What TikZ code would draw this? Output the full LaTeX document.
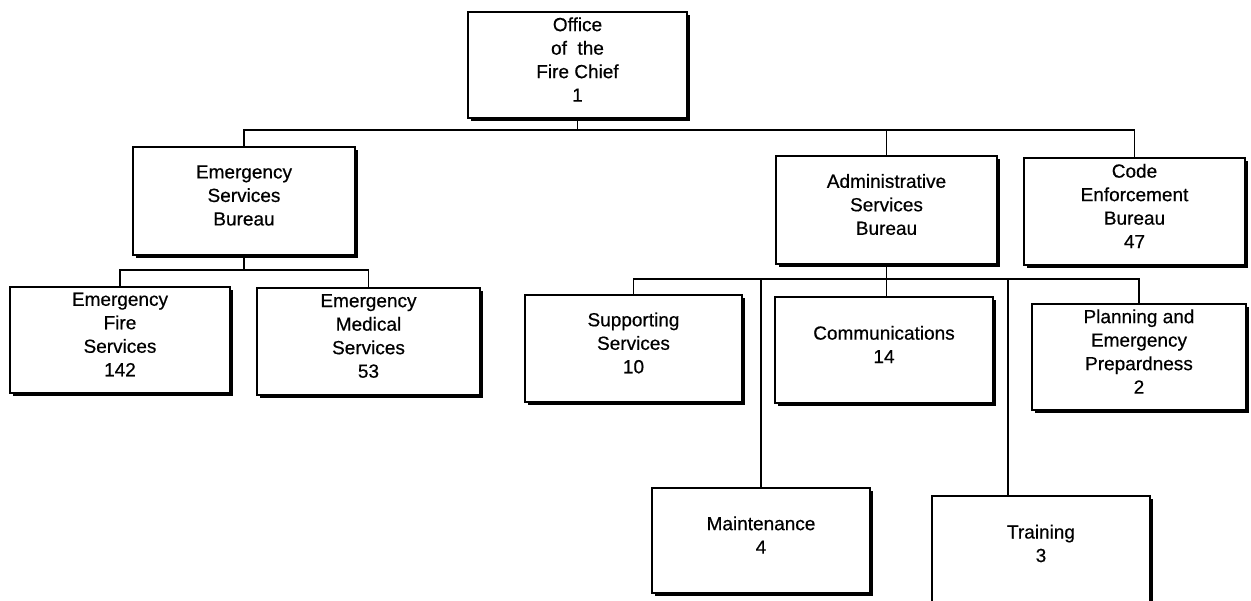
\documentclass[tikz,border=0pt]{standalone}
\usepackage{fontspec}
\setmainfont{Liberation Sans}[FakeBold=0.5]
\usetikzlibrary{shadows}
\begin{document}
\begin{tikzpicture}[x=1pt,y=-1pt,
  box/.style={draw, line width=1.4pt, fill=white, inner sep=0pt,
    general shadow={fill=black, shadow xshift=3pt, shadow yshift=-3pt}},
  lbl/.style={align=center, font=\fontsize{19}{23.5}\selectfont, inner sep=0pt, yshift=5.5pt},
  conn/.style={line width=1.3pt}]
\useasboundingbox (0,0) rectangle (1251,601);
\clip (0,0) rectangle (1251,601);
% level 0
\node[box, minimum width=219pt, minimum height=106pt,
  label={[lbl]center:{Office\\of~~the\\Fire Chief\\1}}] (ofc) at (577.5,65) {};
% level 1
\node[box, minimum width=222pt, minimum height=108pt,
  label={[lbl]center:{Emergency\\Services\\Bureau}}] (esb) at (244,201) {};
\node[box, minimum width=221pt, minimum height=108pt,
  label={[lbl]center:{Administrative\\Services\\Bureau}}] (asb) at (886.5,210) {};
\node[box, minimum width=221pt, minimum height=107pt,
  label={[lbl]center:{Code\\Enforcement\\Bureau\\47}}] (ceb) at (1134.5,211.5) {};
% level 2 (emergency)
\node[box, minimum width=220pt, minimum height=106pt,
  label={[lbl]center:{Emergency\\Fire\\Services\\142}}] (efs) at (120,340) {};
\node[box, minimum width=223pt, minimum height=107pt,
  label={[lbl]center:{Emergency\\Medical\\Services\\53}}] (ems) at (368.5,341.5) {};
% level 2 (administrative)
\node[box, minimum width=217pt, minimum height=107pt,
  label={[lbl]center:{Supporting\\Services\\10}}] (sup) at (633.5,348.5) {};
\node[box, minimum width=218pt, minimum height=106pt,
  label={[lbl]center:{Communications\\14}}] (com) at (884,350) {};
\node[box, minimum width=214pt, minimum height=106pt,
  label={[lbl]center:{Planning and\\Emergency\\Prepardness\\2}}] (pln) at (1139,357) {};
\node[box, minimum width=218pt, minimum height=105pt,
  label={[lbl]center:{Maintenance\\4}}] (mnt) at (761,540.5) {};
\node[box, minimum width=218pt, minimum height=106pt,
  label={[lbl]center:{Training\\3}}] (trn) at (1041,549) {};
% connectors
\coordinate (b1) at (0,130);
\coordinate (b2) at (0,270);
\coordinate (b3) at (0,279);
\coordinate (tj) at (1008,279);
\draw[conn] (esb.north) -- (esb.north |- b1) -- (ceb.north |- b1) -- (ceb.north);
\draw[conn] (ofc.south) -- (ofc.south |- b1);
\draw[conn] (asb.north) -- (asb.north |- b1);
\draw[conn] (esb.south) -- (esb.south |- b2);
\draw[conn] (efs.north) -- (efs.north |- b2) -- (ems.north |- b2) -- (ems.north);
\draw[conn] (sup.north) -- (sup.north |- b3) -- (pln.north |- b3) -- (pln.north);
\draw[conn] (asb.south) -- (asb.south |- com.north);
\draw[conn] (mnt.north) -- (mnt.north |- b3);
\draw[conn] (tj) -- (tj |- trn.north);
\end{tikzpicture}
\end{document}
